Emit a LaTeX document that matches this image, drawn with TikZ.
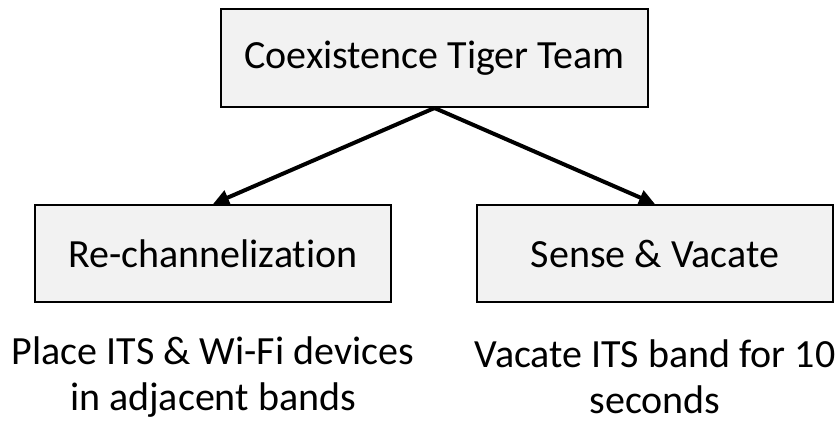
\documentclass[tikz,border=0pt]{standalone}
\usepackage{fontspec}
\setmainfont[Ligatures=NoCommon]{Carlito}
\usetikzlibrary{arrows.meta}
\definecolor{boxfill}{HTML}{F2F2F2}
\tikzset{
  box/.style={draw=black, line width=2pt, fill=boxfill, inner sep=0pt,
    font=\fontsize{40}{48}\selectfont},
  caption/.style={align=center, inner sep=0pt, font=\fontsize{40}{46}\selectfont},
  link/.style={line width=4pt, -{Triangle[length=16pt,width=15pt]}}
}
\begin{document}
\begin{tikzpicture}[x=1pt,y=-1pt]
\useasboundingbox (0,0) rectangle (838,422);
\node[box, minimum width=427pt, minimum height=98pt] (top) at (434.5,58) {Coexistence Tiger Team};
\node[box, minimum width=356pt, minimum height=97pt] (left) at (213,253.5) {Re-channelization};
\node[box, minimum width=356pt, minimum height=97pt] (right) at (655,253.5) {Sense \& Vacate};
\node[caption] (lcap) at (213,377) {Place ITS \& Wi-Fi devices\\in adjacent bands};
\node[caption] (rcap) at (655,377) {Vacate ITS band for 10\\seconds};
\draw[link] (top.south) -- (left.north);
\draw[link] (top.south) -- (right.north);
\end{tikzpicture}
\end{document}
